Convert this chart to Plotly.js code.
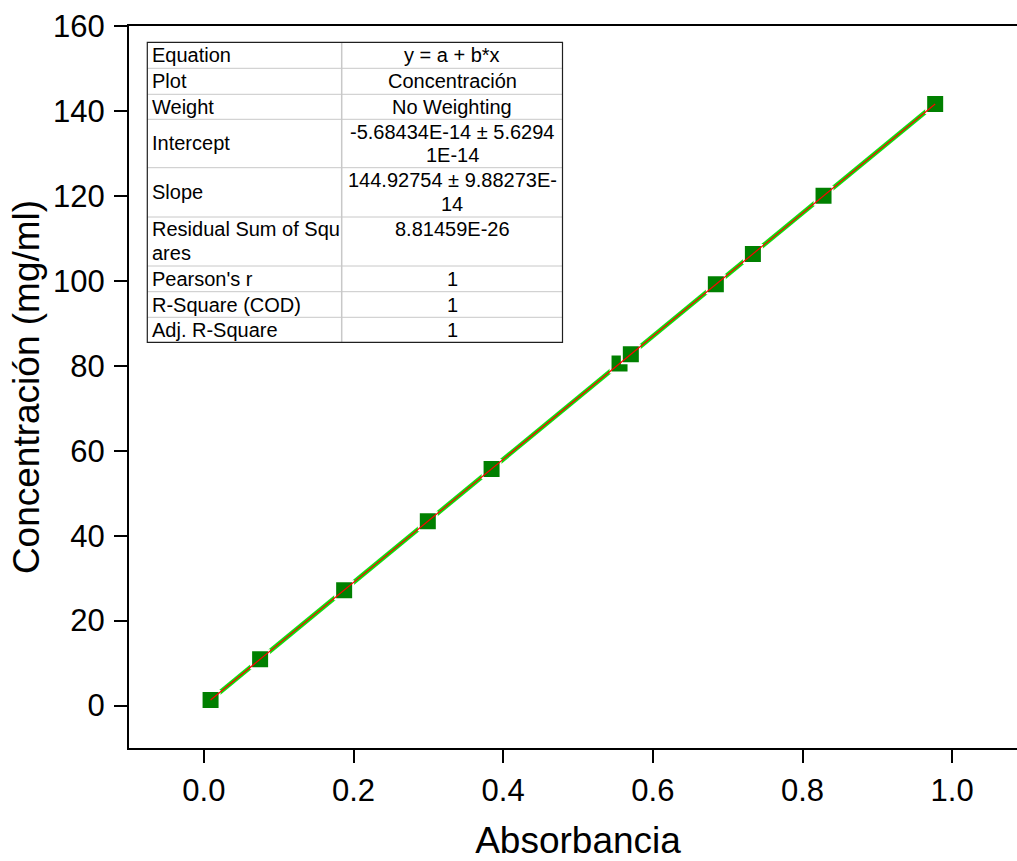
<!DOCTYPE html>
<html>
<head>
<meta charset="utf-8">
<script src="https://cdn.plot.ly/plotly-3.0.1.min.js"></script>
<style>
  html, body { margin: 0; padding: 0; overflow: hidden; background: #fff; }
  #chart { width: 1030px; height: 861px; }
</style>
</head>
<body>
<div id="chart"></div>
<script>
// ---- data ----
const absorbancia = [0.0090, 0.0752, 0.1875, 0.2993, 0.3845, 0.5555, 0.5706, 0.6842, 0.7337, 0.8281, 0.9773];
const concentracion = [1.30, 10.90, 27.17, 43.38, 55.72, 80.51, 82.70, 99.17, 106.33, 120.02, 141.64];

// linear fit parameters (as reported in the table)
const fitIntercept = -5.68434E-14;
const fitSlope = 144.92754;

// axis ticks
const xTickVals = [0.0, 0.2, 0.4, 0.6, 0.8, 1.0];
const xTickText = ["0.0", "0.2", "0.4", "0.6", "0.8", "1.0"];
const yTickVals = [0, 20, 40, 60, 80, 100, 120, 140, 160];
const yTickText = ["0", "20", "40", "60", "80", "100", "120", "140", "160"];

// fit table text
const tableLabels = [["Equation"], ["Plot"], ["Weight"], ["Intercept"], ["Slope"],
  ["Residual Sum of Squ", "ares"], ["Pearson's r"], ["R-Square (COD)"], ["Adj. R-Square"]];
const tableValues = [["y = a + b*x"], ["Concentración"], ["No Weighting"],
  ["-5.68434E-14 ± 5.6294", "1E-14"], ["144.92754 ± 9.88273E-", "14"], ["8.81459E-26"],
  ["1"], ["1"], ["1"]];

// ---- layout geometry ----
const W = 1030, H = 861;
const M = {l: 129, r: 3, t: 26, b: 113};
const PW = W - M.l - M.r, PH = H - M.t - M.b;
const px = x => (x - M.l) / PW;
const py = y => (M.t + PH - y) / PH;

const FONT = "'Liberation Sans', Arial, Helvetica, sans-serif";

// fit line from fit parameters over the data range
const xmin = Math.min(...absorbancia), xmax = Math.max(...absorbancia);
const fitX = [xmin, xmax];
const fitY = fitX.map(x => fitIntercept + fitSlope * x);

const traces = [
  {
    x: absorbancia, y: concentracion, type: "scatter", mode: "lines+markers",
    line: {color: "#10dd10", width: 4.5},
    marker: {symbol: "square", size: 18, color: "#008000", line: {color: "#ffffff", width: 2}},
    showlegend: false, hoverinfo: "x+y"
  },
  {
    x: fitX, y: fitY, type: "scatter", mode: "lines",
    line: {color: "#ff0000", width: 1.2},
    showlegend: false, hoverinfo: "skip"
  }
];

// ---- table (shapes + annotations) ----
const rowEdges = [42.3, 68.3, 94.3, 119.3, 167.7, 217, 266, 291.7, 317.3, 342.3];
const tL = 147.3, tR = 562.5, tMid = 341.7;
const labelX = 150, valueX = 452;
const lineStep = 23.5, firstLine = 12.4;

const shapes = [];
const annotations = [];
for (let i = 1; i < rowEdges.length - 1; i++) {
  shapes.push({type: "line", xref: "paper", yref: "paper",
    x0: px(tL), x1: px(tR), y0: py(rowEdges[i]), y1: py(rowEdges[i]),
    line: {color: "#c8c8c8", width: 1}});
}
shapes.push({type: "line", xref: "paper", yref: "paper",
  x0: px(tMid), x1: px(tMid), y0: py(rowEdges[0]), y1: py(rowEdges[rowEdges.length - 1]),
  line: {color: "#c8c8c8", width: 1.5}});
shapes.push({type: "rect", xref: "paper", yref: "paper",
  x0: px(tL), x1: px(tR), y0: py(rowEdges[0]), y1: py(rowEdges[rowEdges.length - 1]),
  line: {color: "#202020", width: 1.2}});

for (let r = 0; r < tableLabels.length; r++) {
  const top = rowEdges[r], bot = rowEdges[r + 1], mid = (top + bot) / 2;
  const tall = (bot - top) > 35;
  const lab = tableLabels[r], val = tableValues[r];
  lab.forEach((t, i) => {
    const yy = (lab.length > 1) ? top + firstLine + i * lineStep : mid;
    annotations.push({xref: "paper", yref: "paper", x: px(labelX), y: py(yy),
      xanchor: "left", yanchor: "middle", text: t, showarrow: false,
      font: {family: FONT, size: 20, color: "#000"}});
  });
  val.forEach((t, i) => {
    const yy = (val.length > 1 || tall) ? top + firstLine + i * lineStep : mid;
    annotations.push({xref: "paper", yref: "paper", x: px(valueX), y: py(yy),
      xanchor: "center", yanchor: "middle", text: t, showarrow: false,
      font: {family: FONT, size: 20, color: "#000"}});
  });
}

const layout = {
  width: W, height: H,
  margin: M,
  paper_bgcolor: "#ffffff", plot_bgcolor: "#ffffff",
  font: {family: FONT, color: "#000"},
  showlegend: false,
  xaxis: {
    range: [-0.1, 1.1], tickvals: xTickVals, ticktext: xTickText,
    ticks: "outside", ticklen: 13, tickwidth: 2, tickcolor: "#000",
    showline: true, linewidth: 2, linecolor: "#000", mirror: true,
    showgrid: false, zeroline: false, automargin: false,
    ticklabelstandoff: 1,
    tickfont: {family: FONT, size: 31, color: "#000"},
    title: {text: "Absorbancia", font: {family: FONT, size: 37, color: "#000"}, standoff: 22}
  },
  yaxis: {
    range: [-10, 160], tickvals: yTickVals, ticktext: yTickText,
    ticks: "outside", ticklen: 13, tickwidth: 2, tickcolor: "#000",
    showline: true, linewidth: 2, linecolor: "#000", mirror: true,
    showgrid: false, zeroline: false, automargin: false,
    ticklabelstandoff: 3,
    tickfont: {family: FONT, size: 31, color: "#000"},
    title: {text: "Concentración (mg/ml)", font: {family: FONT, size: 37, color: "#000"}, standoff: 2}
  },
  shapes: shapes,
  annotations: annotations
};

Plotly.newPlot("chart", traces, layout, {displayModeBar: false, staticPlot: true});
</script>
</body>
</html>
